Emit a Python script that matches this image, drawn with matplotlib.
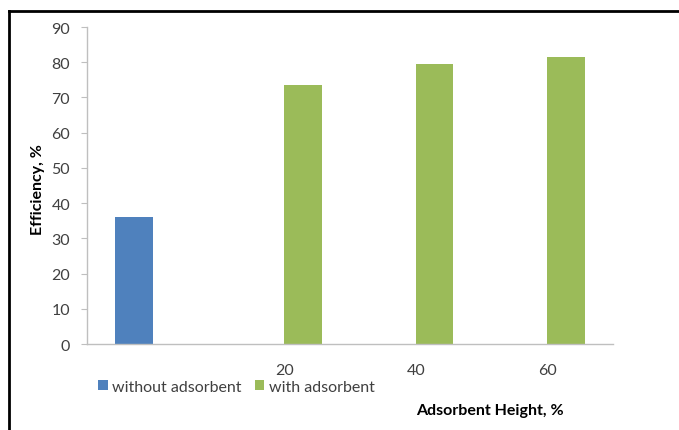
import numpy as np
import matplotlib.pyplot as plt
from matplotlib.lines import Line2D

plt.rcParams['font.family'] = ['Lato', 'DejaVu Sans']

# Category labels along the x axis (first slot is the reference run)
categories = ['', '20', '40', '60']
# Efficiency, % for each series
without_adsorbent = [36.0, 0, 0, 0]
with_adsorbent = [0, 73.5, 79.5, 81.5]

blue = '#4F81BD'
green = '#9BBB59'
axis_grey = '#BFBFBF'
text_grey = '#404040'

fig = plt.figure(figsize=(6.79, 4.31), dpi=100)
fig.patch.set_facecolor('white')
ax = fig.add_axes([0.128, 0.1995, 0.775, 0.7355])

x = np.arange(len(categories))
w = 0.285
ax.bar(x - w / 2, without_adsorbent, w, color=blue, label='without adsorbent')
ax.bar(x + w / 2, with_adsorbent, w, color=green, label='with adsorbent')

ax.set_xlim(-0.5, len(categories) - 0.5)
ax.set_ylim(0, 90)
ax.set_yticks(np.arange(0, 91, 10))
ax.set_xticks(x)
ax.set_xticklabels(categories)

for s in ['top', 'right']:
    ax.spines[s].set_visible(False)
for s in ['left', 'bottom']:
    ax.spines[s].set_color(axis_grey)
    ax.spines[s].set_linewidth(1.0)

ax.tick_params(axis='y', length=4, width=0.8, color=axis_grey,
               labelsize=11.5, labelcolor=text_grey, pad=8)
ax.tick_params(axis='x', length=0, labelsize=11.5, labelcolor=text_grey, pad=14)

# axis titles placed on the figure
fig.text(38 / 679, 1 - 190 / 431, 'Efficiency, %', rotation=90, ha='center',
         va='center', fontsize=11.5, fontweight='bold', color='black')
fig.text(490 / 679, 1 - 411 / 431, 'Adsorbent Height, %', ha='center',
         va='center', fontsize=11.5, fontweight='bold', color='black')

fig.legend(loc='center left', bbox_to_anchor=(98 / 679, 1 - 388 / 431),
           ncol=2, frameon=False, fontsize=11.5, handlelength=0.6,
           handleheight=0.6, handletextpad=0.3, columnspacing=0.8,
           labelcolor=text_grey, borderaxespad=0, borderpad=0)

# outer frame on the left and top edges
fig.add_artist(Line2D([9 / 679, 9 / 679], [0, 1 - 12 / 431],
                      transform=fig.transFigure, color='black', lw=2.0))
fig.add_artist(Line2D([9 / 679, 1], [1 - 12 / 431, 1 - 12 / 431],
                      transform=fig.transFigure, color='black', lw=2.0))

fig.savefig('out.png', dpi=100)
